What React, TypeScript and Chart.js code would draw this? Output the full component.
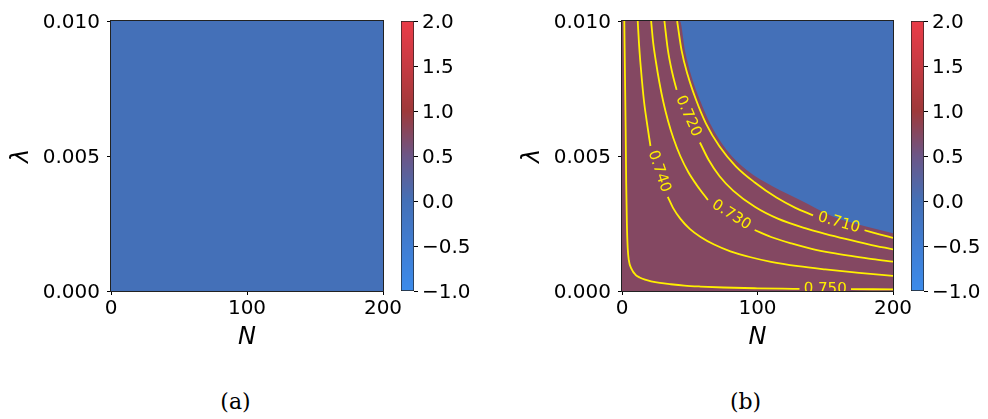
import React, { useEffect, useRef } from 'react';
import { Chart, registerables } from 'chart.js';

Chart.register(...registerables);

// ---------- axis ticks ----------
const nTicks = [0, 100, 200];
const lambdaTicks = [0, 0.005, 0.01];
const cbarTicks = [-1, -0.5, 0, 0.5, 1, 1.5, 2];

// ---------- colour map (value -> rgb) ----------
const cmapValues = [-1, -0.5, 0, 0.5, 1, 1.5, 2];
const cmapColors = [
  [59, 139, 235],
  [64, 125, 210],
  [68, 112, 183],
  [108, 86, 135],
  [158, 57, 58],
  [198, 58, 66],
  [234, 60, 72],
];

// ---------- field values ----------
const fieldA = -0.01;
const fieldBOuter = -0.01;
const fieldBInner = 0.74;

// ---------- panel (b): region edge and contours, points as [N, lambda*1e3]; null = label gap ----------
const innerBoundary = [
  [0, 10], [42.7, 10], [46.4, 8.93], [51.3, 7.94], [57.5, 7.07], [64.9, 6.21], [77.2, 5.22],
  [92, 4.48], [111.7, 3.86], [131.4, 3.37], [156, 2.75], [180.8, 2.38], [200, 2.14],
];

const contourLevels = ['0.710', '0.720', '0.730', '0.740', '0.750'];

const contour0710 = [
  [40.7, 10], [44, 8.9], [48.5, 8.0], [54.5, 7.1], [62, 6.2], [72, 5.35], [84, 4.62], [98, 4.02],
  [114, 3.46], [128, 3.08], [141, 2.8], null, [179, 2.25], [190, 2.1], [200, 1.97],
];
const contour0720 = [
  [31.3, 10], [33.8, 8.95], [37, 8.1], [40.3, 7.45], null, [57.5, 5.5], [64, 4.85], [72, 4.25],
  [82, 3.72], [98, 3.12], [115, 2.68], [135, 2.33], [150, 2.12], [165, 1.93], [182, 1.73], [200, 1.54],
];
const contour0730 = [
  [21.5, 10], [23, 9.2], [25, 8.5], [27.5, 7.75], [30.5, 7.0], [34, 6.3], [38, 5.65], [43, 5.0],
  [49, 4.4], [55.5, 3.9], [63.4, 3.37], null, [97.9, 2.26], [110, 2.0], [125, 1.76], [140, 1.56],
  [155, 1.41], [170, 1.29], [185, 1.18], [200, 1.09],
];
const contour0740 = [
  [11.6, 10], [12.5, 9.2], [13.5, 8.5], [14.8, 7.75], [16.3, 7.0], [18.2, 6.3], [21, 5.37], null,
  [33.8, 3.49], [38, 3.05], [43, 2.68], [50, 2.3], [58, 2.0], [68, 1.72], [80, 1.47], [95, 1.25],
  [110, 1.08], [130, 0.92], [150, 0.8], [175, 0.67], [200, 0.56],
];
const contour0750 = [
  [1.7, 10], [2.2, 8], [2.7, 6], [3.1, 4], [3.6, 2.5], [4.2, 1.6], [5.0, 1.15], [7.2, 0.8], [10, 0.6],
  [13, 0.5], [17, 0.42], [21.5, 0.36], [28, 0.3], [36, 0.25], [46, 0.2], [58, 0.165], [75, 0.13],
  [100, 0.1], [118, 0.085], [131, 0.078], null, [169, 0.068], [185, 0.065], [200, 0.063],
];
const contours = [contour0710, contour0720, contour0730, contour0740, contour0750];

// ---------- helpers ----------
const FONT = 'DejaVu Sans';
const YELLOW = '#fff000';

function cmap(v: number): string {
  const vs = cmapValues;
  if (v <= vs[0]) return `rgb(${cmapColors[0].join(',')})`;
  if (v >= vs[vs.length - 1]) return `rgb(${cmapColors[vs.length - 1].join(',')})`;
  let i = 0;
  while (v > vs[i + 1]) i++;
  const t = (v - vs[i]) / (vs[i + 1] - vs[i]);
  const a = cmapColors[i], b = cmapColors[i + 1];
  const c = a.map((x, k) => Math.round(x + (b[k] - x) * t));
  return `rgb(${c.join(',')})`;
}

function toXY(pts: (number[] | null)[]) {
  return pts.map((p, i) => {
    if (p) return { x: p[0], y: p[1] * 1e-3 };
    const a = pts[i - 1] as number[], b = pts[i + 1] as number[];
    return { x: (a[0] + b[0]) / 2, y: null };
  });
}

function fullRect() {
  return [
    { x: nTicks[0], y: lambdaTicks[lambdaTicks.length - 1] },
    { x: nTicks[nTicks.length - 1], y: lambdaTicks[lambdaTicks.length - 1] },
  ];
}

const framePlugin = {
  id: 'frame',
  afterDatasetsDraw(chart: any) {
    const { ctx, chartArea: a } = chart;
    ctx.save();
    ctx.strokeStyle = '#222';
    ctx.lineWidth = 1;
    ctx.strokeRect(Math.round(a.left) - 0.5, Math.round(a.top) - 0.5, Math.round(a.right) - Math.round(a.left) + 1, Math.round(a.bottom) - Math.round(a.top) + 1);
    ctx.restore();
  },
};

const contourLabelPlugin = {
  id: 'contourLabels',
  afterDatasetsDraw(chart: any) {
    const { ctx, chartArea: a } = chart;
    chart.data.datasets.forEach((ds: any, di: number) => {
      if (!ds.contourLabel) return;
      const pts = chart.getDatasetMeta(di).data;
      for (let i = 1; i < pts.length - 1; i++) {
        if (pts[i].skip && !pts[i - 1].skip && !pts[i + 1].skip) {
          const p = pts[i - 1], q = pts[i + 1];
          const cx = (p.x + q.x) / 2, cy = (p.y + q.y) / 2;
          const ang = Math.atan2(q.y - p.y, q.x - p.x);
          ctx.save();
          ctx.beginPath();
          ctx.rect(a.left, a.top, a.right - a.left, a.bottom - a.top);
          ctx.clip();
          ctx.translate(cx, cy);
          ctx.rotate(ang);
          ctx.font = `15px "${FONT}"`;
          ctx.fillStyle = YELLOW;
          ctx.textAlign = 'center';
          ctx.textBaseline = 'middle';
          ctx.fillText(ds.label, 0, 0);
          ctx.restore();
        }
      }
    });
  },
};

function mainOptions(yWidth: number, padRight: number) {
  const tickFont = { family: FONT, size: 20 };
  const titleFont = { family: FONT, size: 24, style: 'italic' as const };
  return {
    animation: false,
    responsive: false,
    events: [],
    plugins: { legend: { display: false }, tooltip: { enabled: false } },
    layout: { padding: { top: 21, right: padRight, bottom: 19, left: 0 } },
    scales: {
      x: {
        type: 'linear',
        min: nTicks[0],
        max: nTicks[nTicks.length - 1],
        afterBuildTicks: (s: any) => { s.ticks = nTicks.map((v) => ({ value: v })); },
        ticks: { font: tickFont, color: '#000', padding: 2, maxRotation: 0, autoSkip: false, callback: (v: any) => String(v) },
        grid: { drawOnChartArea: false, drawTicks: true, tickLength: 4, color: '#000' },
        border: { display: false },
        title: { display: true, text: 'N', font: titleFont, color: '#000', padding: { top: 0, bottom: 9 } },
        afterFit: (s: any) => { s.height = 70; },
      },
      y: {
        type: 'linear',
        min: lambdaTicks[0],
        max: lambdaTicks[lambdaTicks.length - 1],
        afterBuildTicks: (s: any) => { s.ticks = lambdaTicks.map((v) => ({ value: v })); },
        ticks: { font: tickFont, color: '#000', padding: 7, labelOffset: 1.5, autoSkip: false, callback: (v: any) => Number(v).toFixed(3) },
        grid: { drawOnChartArea: false, drawTicks: true, tickLength: 4, color: '#000' },
        border: { display: false },
        title: { display: true, text: 'λ', font: titleFont, color: '#000', padding: { top: 7, bottom: 0 } },
        afterFit: (s: any) => { s.width = yWidth; },
      },
    },
  };
}

function configA() {
  return {
    type: 'line',
    data: {
      datasets: [
        {
          label: 'field',
          data: fullRect(),
          borderColor: 'transparent',
          borderWidth: 0,
          backgroundColor: cmap(fieldA),
          fill: 'origin',
          pointRadius: 0,
        },
      ],
    },
    options: mainOptions(111, 47),
    plugins: [framePlugin],
  };
}

function configB() {
  const contourSets = contours.map((pts, k) => ({
    label: contourLevels[k],
    contourLabel: true,
    data: toXY(pts),
    borderColor: YELLOW,
    borderWidth: 1.8,
    pointRadius: 0,
    fill: false,
    spanGaps: false,
    cubicInterpolationMode: 'monotone',
    order: 0,
  }));
  return {
    type: 'line',
    data: {
      datasets: [
        ...contourSets,
        {
          label: 'inner',
          data: toXY(innerBoundary),
          borderColor: 'transparent',
          borderWidth: 0,
          backgroundColor: cmap(fieldBInner),
          fill: 'origin',
          pointRadius: 0,
          cubicInterpolationMode: 'monotone',
          order: 1,
        },
        {
          label: 'outer',
          data: fullRect(),
          borderColor: 'transparent',
          borderWidth: 0,
          backgroundColor: cmap(fieldBOuter),
          fill: 'origin',
          pointRadius: 0,
          order: 2,
        },
      ],
    },
    options: mainOptions(111, 48),
    plugins: [framePlugin, contourLabelPlugin],
  };
}

function configBar(axisWidth: number) {
  const lo = cbarTicks[0], hi = cbarTicks[cbarTicks.length - 1];
  return {
    type: 'bar',
    data: {
      labels: [''],
      datasets: [
        {
          data: [[lo, hi]],
          backgroundColor: (c: any) => {
            const chart = c.chart;
            if (!chart.chartArea) return cmap(0);
            const y = chart.scales.y;
            const g = chart.ctx.createLinearGradient(0, y.getPixelForValue(lo), 0, y.getPixelForValue(hi));
            cmapValues.forEach((v, i) => g.addColorStop((v - lo) / (hi - lo), `rgb(${cmapColors[i].join(',')})`));
            return g;
          },
          borderColor: '#222',
          borderWidth: 1,
          borderSkipped: false,
          barPercentage: 1,
          categoryPercentage: 1,
        },
      ],
    },
    options: {
      animation: false,
      responsive: false,
      events: [],
      plugins: { legend: { display: false }, tooltip: { enabled: false } },
      layout: { padding: { top: 21, right: 0, bottom: 19, left: 0 } },
      scales: {
        x: { display: false },
        y: {
          position: 'right',
          min: lo,
          max: hi,
          afterBuildTicks: (s: any) => { s.ticks = cbarTicks.map((v) => ({ value: v })); },
          ticks: {
            font: { family: FONT, size: 20 },
            color: '#000',
            padding: 4,
            labelOffset: 1.5,
            autoSkip: false,
            callback: (v: any) => {
              const s = Math.abs(Number(v)).toFixed(1);
              return Number(v) < 0 ? '\u2212' + s : s;
            },
          },
          grid: { drawOnChartArea: false, drawTicks: true, tickLength: 4, color: '#000' },
          border: { display: false },
          afterFit: (s: any) => { s.width = axisWidth; },
        },
      },
    },
  };
}

function ChartCanvas({ make, left, top, width, height }: any) {
  const ref = useRef<HTMLCanvasElement>(null);
  useEffect(() => {
    const chart = new Chart(ref.current as HTMLCanvasElement, make() as any);
    return () => chart.destroy();
  }, []);
  return (
    <canvas
      ref={ref}
      width={width}
      height={height}
      style={{ position: 'absolute', left, top, width, height }}
    />
  );
}

const captionStyle: React.CSSProperties = {
  position: 'absolute',
  top: 391,
  width: 80,
  height: 22,
  lineHeight: '22px',
  fontFamily: '"DejaVu Serif", serif',
  fontSize: 22,
  textAlign: 'center',
  color: '#000',
};

export default function App() {
  return (
    <div style={{ position: 'absolute', left: 0, top: 0, width: 988, height: 419, overflow: 'hidden', background: '#fff' }}>
      <ChartCanvas make={configA} left={0} top={0} width={430} height={380} />
      <ChartCanvas make={() => configBar(67)} left={401} top={0} width={80} height={310} />
      <ChartCanvas make={configB} left={511} top={0} width={430} height={380} />
      <ChartCanvas make={() => configBar(64)} left={911} top={0} width={77} height={310} />
      <div style={{ ...captionStyle, left: 235.5 - 40 }}>(a)</div>
      <div style={{ ...captionStyle, left: 745.5 - 40 }}>(b)</div>
    </div>
  );
}
